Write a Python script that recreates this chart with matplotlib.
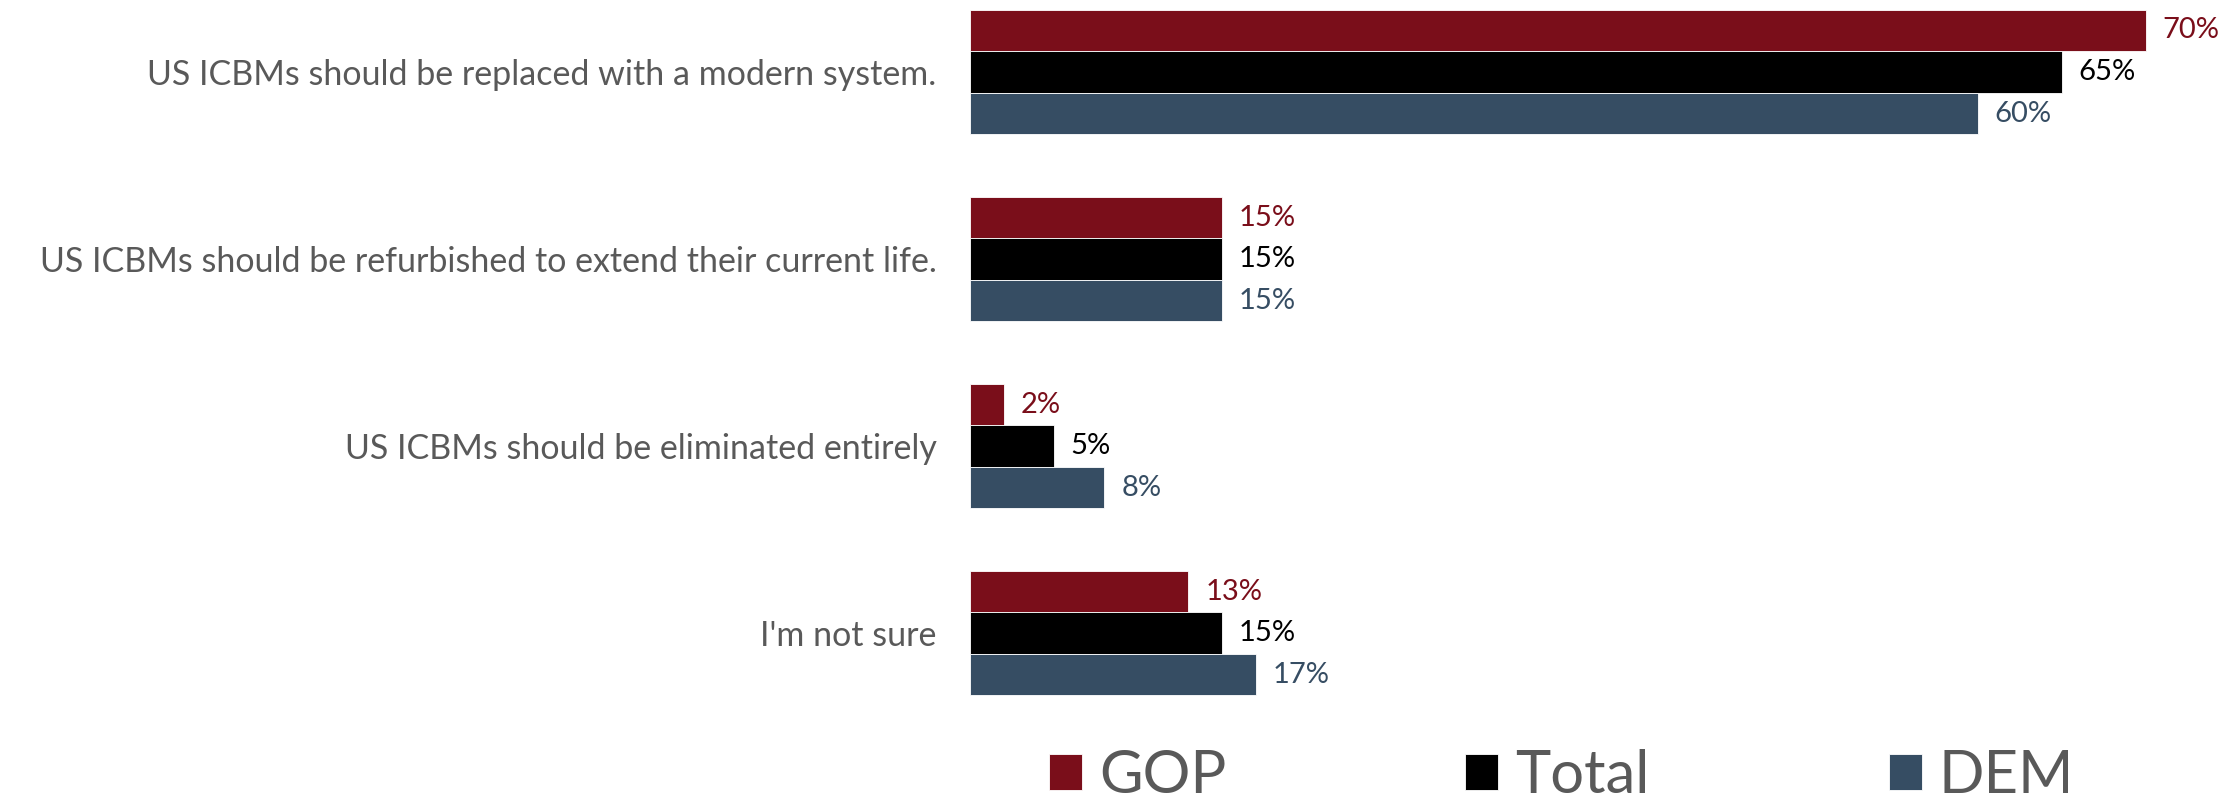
import matplotlib
matplotlib.use("Agg")
import matplotlib.pyplot as plt
import numpy as np

plt.rcParams['font.family'] = ['Lato', 'DejaVu Sans']

# Survey answers and shares (%) by group
categories = ['US ICBMs should be replaced with a modern system.',
              'US ICBMs should be refurbished to extend their current life.',
              'US ICBMs should be eliminated entirely',
              "I'm not sure"]
gop = [70, 15, 2, 13]
total = [65, 15, 5, 15]
dem = [60, 15, 8, 17]

series = ['GOP', 'Total', 'DEM']
colors = {'GOP': '#7A0E1A', 'Total': '#000000', 'DEM': '#364D63'}
label_grey = '#595959'

fig = plt.figure(figsize=(22.34, 8.05), dpi=100)
ax = fig.add_axes([0.4342, 0.1205, 0.564, 0.8795])

y = np.arange(len(categories))
h = 0.222
offsets = {'GOP': -h, 'Total': 0.0, 'DEM': h}
values = {'GOP': gop, 'Total': total, 'DEM': dem}

handles = []
for name in series:
    bars = ax.barh(y + offsets[name], values[name], height=h, color=colors[name],
                   edgecolor='white', linewidth=0.6, label=name)
    handles.append(bars)
    for rect, v in zip(bars, values[name]):
        ax.text(rect.get_width() + 1.0, rect.get_y() + rect.get_height() / 2,
                f'{v}%', va='center', ha='left', fontsize=21, color=colors[name])

ax.set_xlim(0, 75)
ax.set_ylim(3.4, -0.385)
ax.set_yticks(y)
ax.set_yticklabels(categories, fontsize=24.5, color=label_grey)
ax.tick_params(axis='y', length=0, pad=24)
ax.set_xticks([])
for s in ax.spines.values():
    s.set_visible(False)

leg = fig.legend(handles=handles, labels=series, loc='center',
                 bbox_to_anchor=(0.699, 0.036), ncol=3, frameon=False,
                 fontsize=43, handlelength=0.55, handleheight=0.55,
                 handletextpad=0.29, columnspacing=4.0, borderpad=0)
for t in leg.get_texts():
    t.set_color(label_grey)

fig.savefig('out.png', dpi=100)
